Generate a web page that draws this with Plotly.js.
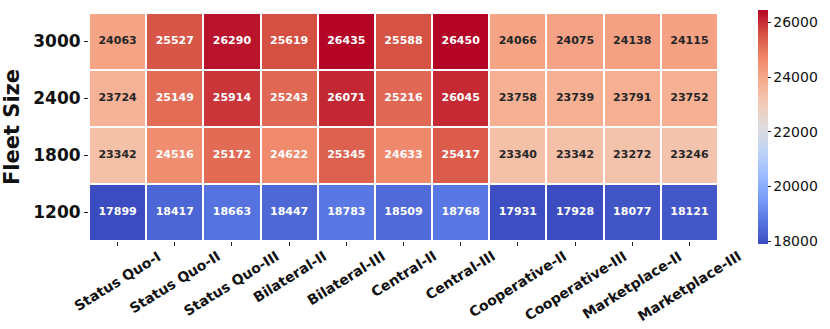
<!DOCTYPE html>
<html>
<head>
<meta charset="utf-8">
<script src="https://cdn.plot.ly/plotly-3.0.1.min.js"></script>
<style>
  html, body { margin: 0; padding: 0; background: #fff; }
  #chart { width: 830px; height: 329px; }
</style>
</head>
<body>
<div id="chart"></div>
<script>
const scenarios = [
  "Status Quo-I", "Status Quo-II", "Status Quo-III", "Bilateral-II", "Bilateral-III",
  "Central-II", "Central-III", "Cooperative-II", "Cooperative-III", "Marketplace-II", "Marketplace-III",
];
const fleetSizes = ["1200", "1800", "2400", "3000"];

// rows follow fleetSizes (bottom to top)
const fleet1200 = [17899, 18417, 18663, 18447, 18783, 18509, 18768, 17931, 17928, 18077, 18121];
const fleet1800 = [23342, 24516, 25172, 24622, 25345, 24633, 25417, 23340, 23342, 23272, 23246];
const fleet2400 = [23724, 25149, 25914, 25243, 26071, 25216, 26045, 23758, 23739, 23791, 23752];
const fleet3000 = [24063, 25527, 26290, 25619, 26435, 25588, 26450, 24066, 24075, 24138, 24115];

const grid = [fleet1200, fleet1800, fleet2400, fleet3000];

// matplotlib coolwarm, sampled every 0.1
const coolwarm = [
  "#3b4cc0", "#5977e3", "#7b9ff9", "#9ebeff", "#c0d4f5", "#dddcdc",
  "#f2cbb7", "#f7ac8e", "#ee8468", "#d65244", "#b40426",
].map((c, i) => [i / 10, c]);

// text overlay: one point per cell, dark label on the pale cells
const textX = [];
const textY = [];
const textVal = [];
const textColor = [];
grid.forEach((row, r) => {
  row.forEach((v, c) => {
    textX.push(scenarios[c]);
    textY.push(fleetSizes[r]);
    textVal.push(String(v));
    textColor.push(v > 21000 && v < 24300 ? "#262626" : "#ffffff");
  });
});

const traces = [
  {
    type: "heatmap",
    x: scenarios,
    y: fleetSizes,
    z: grid,
    colorscale: coolwarm,
    xgap: 2,
    ygap: 2,
    colorbar: {
      thickness: 10,
      lenmode: "pixels",
      len: 234,
      x: 1.064,
      xanchor: "left",
      xpad: 0,
      ypad: 0,
      y: 0.5,
      yanchor: "middle",
      outlinewidth: 0,
      ticks: "outside",
      ticklen: 3,
      tickwidth: 1,
      tickcolor: "#222",
      tickvals: [18000, 20000, 22000, 24000, 26000],
      tickformat: "d",
      tickfont: { family: "DejaVu Sans", size: 14, color: "#111" },
    },
  },
  {
    type: "scatter",
    mode: "text",
    x: textX,
    y: textY,
    text: textVal,
    textfont: { family: "DejaVu Sans", size: 11, weight: "bold", color: textColor },
    hoverinfo: "skip",
    showlegend: false,
  },
];

// x labels centred under their ticks, like matplotlib's rotation=30
const xLabels = scenarios.map((s) => ({
  x: s,
  xref: "x",
  y: 0,
  yref: "paper",
  yanchor: "top",
  xanchor: "center",
  yshift: -4,
  text: s,
  textangle: -32,
  showarrow: false,
  font: { family: "DejaVu Sans", size: 14, weight: "bold", color: "#111" },
}));

const layout = {
  width: 830,
  height: 329,
  margin: { l: 89, r: 112, t: 13, b: 88, autoexpand: false },
  paper_bgcolor: "#ffffff",
  plot_bgcolor: "#ffffff",
  showlegend: false,
  annotations: xLabels,
  xaxis: {
    type: "category",
    range: [-0.5, scenarios.length - 0.5],
    ticks: "outside",
    ticklen: 4,
    tickcolor: "#222",
    showticklabels: false,
    showgrid: false,
    zeroline: false,
    showline: false,
  },
  yaxis: {
    type: "category",
    range: [-0.5, fleetSizes.length - 0.5],
    ticks: "outside",
    ticklen: 4,
    tickcolor: "#222",
    showgrid: false,
    zeroline: false,
    showline: false,
    tickfont: { family: "DejaVu Sans", size: 17, weight: "bold", color: "#111" },
    title: {
      text: "Fleet Size",
      standoff: 8,
      font: { family: "DejaVu Sans", size: 21, weight: "bold", color: "#111" },
    },
  },
};

Plotly.newPlot("chart", traces, layout, { staticPlot: true });
</script>
</body>
</html>
